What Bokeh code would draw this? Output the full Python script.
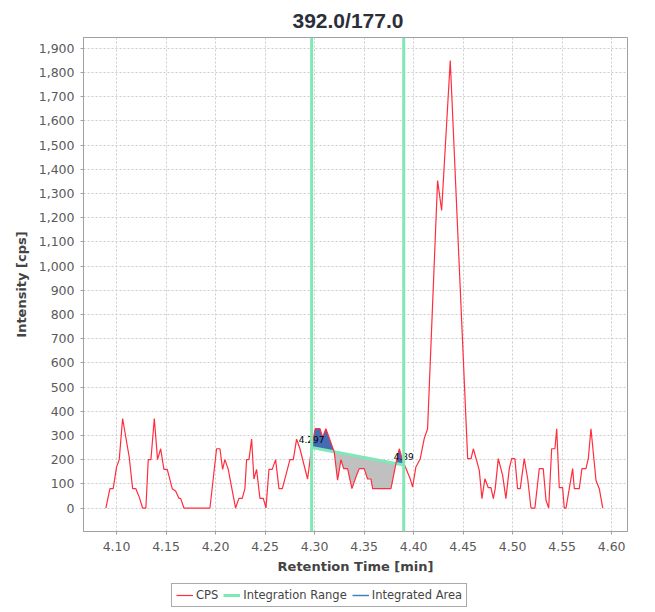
import numpy as np
from bokeh.plotting import figure
from bokeh.layouts import column
from bokeh.models import (ColumnDataSource, Span, Legend, LegendItem, FixedTicker,
                          NumeralTickFormatter, Range1d)
from bokeh.core.properties import value
from bokeh.embed import file_html
from bokeh.resources import INLINE

# Chromatogram 392.0/177.0
time_min = [4.0892, 4.0933, 4.0966, 4.1000, 4.1027, 4.1061, 4.1128, 4.1162, 4.1195, 4.1229,
            4.1263, 4.1296, 4.1320, 4.1347, 4.1381, 4.1414, 4.1445, 4.1478, 4.1512, 4.1562,
            4.1596, 4.1630, 4.1647, 4.1680, 4.1943, 4.2010, 4.2044, 4.2071, 4.2094, 4.2128,
            4.2162, 4.2202, 4.2236, 4.2269, 4.2296, 4.2313, 4.2337, 4.2364, 4.2387, 4.2414,
            4.2448, 4.2482, 4.2509, 4.2539, 4.2572, 4.2606, 4.2640, 4.2674, 4.2751, 4.2785,
            4.2818, 4.2852, 4.2892, 4.2929, 4.2970, 4.3006, 4.3054, 4.3081, 4.3114, 4.3198,
            4.3232, 4.3266, 4.3293, 4.3333, 4.3377, 4.3417, 4.3451, 4.3501, 4.3535, 4.3569,
            4.3586, 4.3771, 4.3821, 4.3855, 4.3889, 4.3923, 4.3966, 4.3990, 4.4023, 4.4067,
            4.4107, 4.4141, 4.4242, 4.4283, 4.4370, 4.4546, 4.4580, 4.4603, 4.4636, 4.4663,
            4.4690, 4.4720, 4.4754, 4.4781, 4.4805, 4.4824, 4.4855, 4.4899, 4.4932, 4.4966,
            4.4990, 4.5023, 4.5050, 4.5077, 4.5117, 4.5152, 4.5185, 4.5225, 4.5269, 4.5309,
            4.5337, 4.5364, 4.5394, 4.5427, 4.5445, 4.5471, 4.5505, 4.5521, 4.5539, 4.5572,
            4.5606, 4.5623, 4.5673, 4.5700, 4.5740, 4.5764, 4.5791, 4.5842, 4.5875, 4.5910]
cps = [0, 80, 80, 170, 200, 370, 210, 80, 80, 45,
       0, 0, 200, 200, 370, 200, 245, 160, 160, 80,
       70, 40, 40, 0, 0, 245, 245, 160, 200, 160,
       85, 0, 40, 40, 80, 200, 200, 285, 120, 160,
       40, 40, 0, 160, 160, 200, 80, 80, 200, 200,
       285, 245, 180, 120, 250, 328, 328, 293, 328, 232,
       115, 200, 163, 163, 80, 128, 163, 163, 120, 120,
       80, 80, 183, 245, 197, 163, 120, 87, 170, 204,
       287, 328, 1354, 1230, 1850, 204, 204, 245, 197, 156,
       39, 121, 84, 84, 39, 80, 204, 135, 39, 163,
       204, 204, 80, 80, 204, 121, 0, 0, 163, 163,
       32, 0, 245, 245, 328, 84, 84, 0, 0, 80,
       163, 80, 80, 163, 163, 204, 328, 114, 80, 0]

# integration range and its baseline
range_t = [4.297, 4.39]
range_labels = ["4.297", "4.39"]
baseline_v = [250, 178]

x_ticks = [4.10, 4.15, 4.20, 4.25, 4.30, 4.35, 4.40, 4.45, 4.50, 4.55, 4.60]
y_ticks = list(range(0, 2000, 100))

RED = "#ff2d3d"
GREEN = "#80e8b6"
BLUE = "#4a80b8"

t = np.array(time_min)
c = np.array(cps, dtype=float)

# area between the signal and the baseline, split at the crossings
r0, r1 = range_t
mask = (t > r0) & (t < r1)
ti = np.concatenate([[r0], t[mask], [r1]])
ci = np.concatenate([[np.interp(r0, t, c)], c[mask], [np.interp(r1, t, c)]])
bi = np.interp(ti, range_t, baseline_v)
xs, cs, bs = [ti[0]], [ci[0]], [bi[0]]
for k in range(1, len(ti)):
    d0 = ci[k - 1] - bi[k - 1]
    d1 = ci[k] - bi[k]
    if d0 * d1 < 0:
        f = d0 / (d0 - d1)
        tx = ti[k - 1] + f * (ti[k] - ti[k - 1])
        bx = np.interp(tx, range_t, baseline_v)
        xs.append(tx); cs.append(bx); bs.append(bx)
    xs.append(ti[k]); cs.append(ci[k]); bs.append(bi[k])
xs, cs, bs = np.array(xs), np.array(cs), np.array(bs)
area = ColumnDataSource(dict(t=xs, base=bs, upper=np.maximum(cs, bs), lower=np.minimum(cs, bs)))

p = figure(width=650, height=578, output_backend="svg", toolbar_location=None,
           x_range=Range1d(4.0666, 4.616), y_range=Range1d(-97, 1945),
           min_border_left=83, min_border_right=23, min_border_top=37, min_border_bottom=47)
p.background_fill_color = "white"
p.border_fill_color = "white"
p.outline_line_color = "#a0a0a0"

p.title.text = "392.0/177.0"
p.title.align = "left"
p.title.offset = 209
p.title.vertical_align = "middle"
p.title.text_font = "Liberation Sans"
p.title.text_font_size = "21px"
p.title.text_color = "#2b2f3a"

p.varea(x="t", y1="base", y2="upper", source=area, fill_color="#3a64b0", fill_alpha=0.95)
p.varea(x="t", y1="lower", y2="base", source=area, fill_color="#c0c0c0")

for rt in range_t:
    p.add_layout(Span(location=rt, dimension="height", line_color=GREEN, line_width=3))
p.line(range_t, baseline_v, line_color=GREEN, line_width=3)

p.line(time_min, cps, line_color=RED, line_width=1.2)

p.text(x=range_t, y=baseline_v, text=range_labels, text_align="center", text_baseline="bottom",
       y_offset=-5, text_font=value("DejaVu Sans"), text_font_size="9px", text_color="black")

# axes
for ax in (p.xaxis[0], p.yaxis[0]):
    ax.axis_line_color = "#a0a0a0"
    ax.major_tick_line_color = "#a0a0a0"
    ax.major_tick_in = 0
    ax.major_tick_out = 3
    ax.minor_tick_line_color = None
    ax.major_label_text_font = "DejaVu Sans"
    ax.major_label_text_font_size = "12.5px"
    ax.major_label_text_color = "#5a5a5a"
    ax.axis_label_text_font = "DejaVu Sans"
    ax.axis_label_text_font_style = "bold"
    ax.axis_label_text_font_size = "13px"
    ax.axis_label_text_color = "#444444"

p.xaxis.ticker = FixedTicker(ticks=x_ticks)
p.xaxis.formatter = NumeralTickFormatter(format="0.00")
p.xaxis.axis_label = "Retention Time [min]"
p.xaxis.major_label_standoff = 7
p.xaxis.axis_label_standoff = 5

p.yaxis.ticker = FixedTicker(ticks=y_ticks)
p.yaxis.formatter = NumeralTickFormatter(format="0,0")
p.yaxis.axis_label = "Intensity [cps]"
p.yaxis.major_label_standoff = 6
p.yaxis.axis_label_standoff = 7

p.grid.grid_line_color = "#cccccc"
p.grid.grid_line_dash = "2 2"

# legend strip under the chart (its glyphs sit outside the strip's view)
lg = figure(width=650, height=32, output_backend="svg", toolbar_location=None,
            x_range=Range1d(0, 1), y_range=Range1d(-1e4, -9e3),
            x_axis_type=None, y_axis_type=None, min_border=0)
lg.outline_line_color = None
lg.grid.visible = False
r_cps = lg.line(time_min, cps, line_color=RED, line_width=1.2)
r_rng = lg.line(range_t, baseline_v, line_color=GREEN, line_width=3)
r_area = lg.line(range_t, baseline_v, line_color=BLUE, line_width=1.5)
legend = Legend(items=[LegendItem(label="CPS", renderers=[r_cps]),
                       LegendItem(label="Integration Range", renderers=[r_rng]),
                       LegendItem(label="Integrated Area", renderers=[r_area])],
                orientation="horizontal", location=(88, 3),
                label_text_font="DejaVu Sans", label_text_font_size="11.5px",
                label_text_color="#444444", glyph_width=17, glyph_height=12,
                label_standoff=3, spacing=5, padding=4, margin=0,
                border_line_color="#555555", border_line_width=1)
lg.add_layout(legend)

open("out.html", "w").write(file_html(column(p, lg, spacing=0), INLINE))
